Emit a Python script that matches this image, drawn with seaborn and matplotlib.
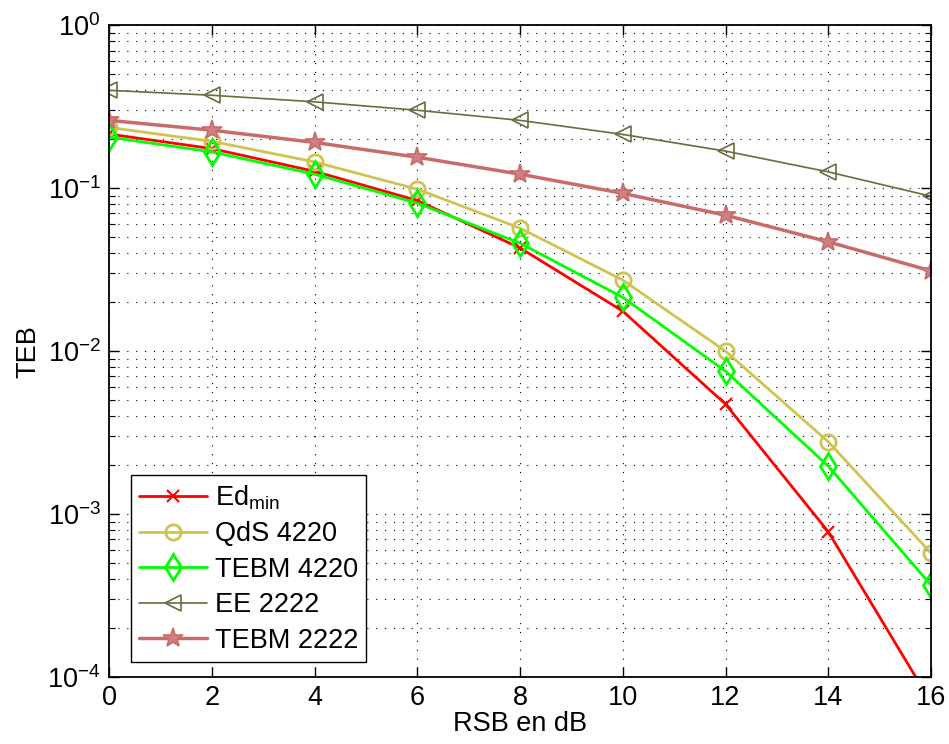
import numpy as np
import pandas as pd
import matplotlib
matplotlib.use("Agg")
from matplotlib import pyplot as plt
from matplotlib.ticker import LogLocator, NullFormatter
import seaborn as sns

# valeurs
rsb = [0, 2, 4, 6, 8, 10, 12, 14, 16]
ed_min = [0.215, 0.175, 0.127, 0.084, 0.0430, 0.0176, 0.00473, 0.00078, 0.00007]
qds_4220 = [0.236, 0.194, 0.145, 0.0986, 0.0569, 0.0273, 0.0100, 0.00278, 0.000577]
tebm_4220 = [0.206, 0.167, 0.122, 0.081, 0.0460, 0.0214, 0.00754, 0.00197, 0.000367]
ee_2222 = [0.399, 0.372, 0.339, 0.301, 0.261, 0.214, 0.169, 0.126, 0.0893]
tebm_2222 = [0.261, 0.227, 0.191, 0.155, 0.122, 0.093, 0.0683, 0.0469, 0.0311]

labels = [r"Ed$_{\mathrm{min}}$", "QdS 4220", "TEBM 4220", "EE 2222", "TEBM 2222"]
series = [ed_min, qds_4220, tebm_4220, ee_2222, tebm_2222]

sns.set_style("ticks")
plt.rcParams["font.family"] = ["Liberation Sans", "DejaVu Sans"]
plt.rcParams["mathtext.fontset"] = "custom"
plt.rcParams["mathtext.rm"] = "Liberation Sans"
plt.rcParams["mathtext.it"] = "Liberation Sans:italic"
for k in ["text.color", "axes.labelcolor", "xtick.color", "ytick.color"]:
    plt.rcParams[k] = "black"

FS = 19.5

# style de chaque courbe
styles = [
    dict(color="#ff0000", marker="x", lw=2.0, ms=9, mfc="none", mew=1.5),
    dict(color="#cfc452", marker="o", lw=2.0, ms=11, mfc="none", mew=2.0),
    dict(color="#00ff00", marker="d", lw=2.0, ms=13, mfc="none", mew=2.0),
    dict(color="#6b6b40", marker="<", lw=1.2, ms=12, mfc="none", mew=1.2),
    dict(color="#c86b6b", marker="*", lw=2.5, ms=15, mfc="#d08080", mew=1.2),
]

fig = plt.figure(figsize=(9.49, 7.44), dpi=100)
ax = fig.add_axes([0.115, 0.09, 0.866, 0.876])

for lab, y, st in zip(labels, series, styles):
    df = pd.DataFrame({"x": rsb, "y": y})
    sns.lineplot(data=df, x="x", y="y", ax=ax, label=lab, color=st["color"],
                 marker=st["marker"], linewidth=st["lw"], markersize=st["ms"],
                 markerfacecolor=st["mfc"], markeredgecolor=st["color"],
                 markeredgewidth=st["mew"])

ax.set_yscale("log")
ax.set_xlim(0, 16)
ax.set_ylim(1e-4, 1)
ax.set_xticks(range(0, 17, 2))
ax.yaxis.set_major_locator(LogLocator(base=10, numticks=10))
ax.yaxis.set_minor_locator(LogLocator(base=10, subs=np.arange(2, 10), numticks=50))
ax.yaxis.set_minor_formatter(NullFormatter())

dots = (0, (1, 7))
ax.grid(True, which="major", axis="both", color="black", linestyle=dots, linewidth=0.8)
ax.grid(True, which="minor", axis="y", color="black", linestyle=dots, linewidth=0.8)

ax.tick_params(axis="both", which="both", direction="in", top=True, right=True,
               labelsize=FS, colors="black")
ax.tick_params(axis="both", which="major", length=7, width=1, pad=6)
ax.tick_params(axis="y", which="minor", length=4, width=0.8)
for sp in ax.spines.values():
    sp.set_linewidth(1.3)
    sp.set_color("black")

ax.set_xlabel("RSB en dB", fontsize=FS, labelpad=0)
ax.set_ylabel("TEB", fontsize=FS, labelpad=4)

leg = ax.legend(loc="lower left", bbox_to_anchor=(0.02, 0.015), fontsize=FS, fancybox=False,
                framealpha=1, edgecolor="black", handlelength=2.5, borderpad=0.3,
                labelspacing=0.35, handletextpad=0.3, borderaxespad=0.2)
leg.get_frame().set_linewidth(1.0)
for t in leg.get_texts():
    t.set_color("black")

fig.savefig("out.png", dpi=100)
